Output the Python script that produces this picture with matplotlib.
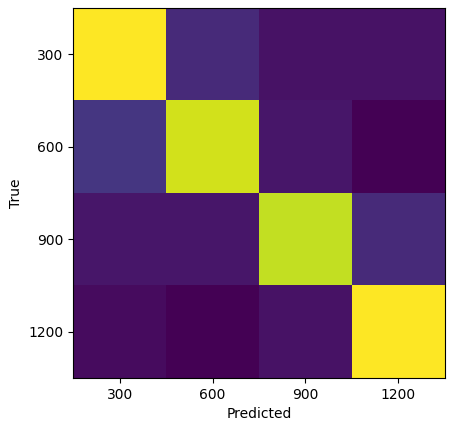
import numpy as np
import matplotlib
matplotlib.use("Agg")
import matplotlib.pyplot as plt

labels = ["300", "600", "900", "1200"]
# approximate confusion-matrix counts read from colour intensity
row_300 = [100, 12, 5, 5]
row_600 = [16, 93, 6, 0]
row_900 = [6, 6, 91, 12]
row_1200 = [3, 0, 5, 100]
cm = np.array([row_300, row_600, row_900, row_1200])

fig = plt.figure(figsize=(4.54, 4.32), dpi=100)
ax = fig.add_axes([0.161, 0.125, 0.819, 0.856])
ax.imshow(cm, cmap="viridis", aspect="auto")
ax.set_xticks(range(len(labels)))
ax.set_xticklabels(labels)
ax.set_yticks(range(len(labels)))
ax.set_yticklabels(labels)
ax.set_xlabel("Predicted")
ax.set_ylabel("True")
fig.savefig("out.png", dpi=100)
